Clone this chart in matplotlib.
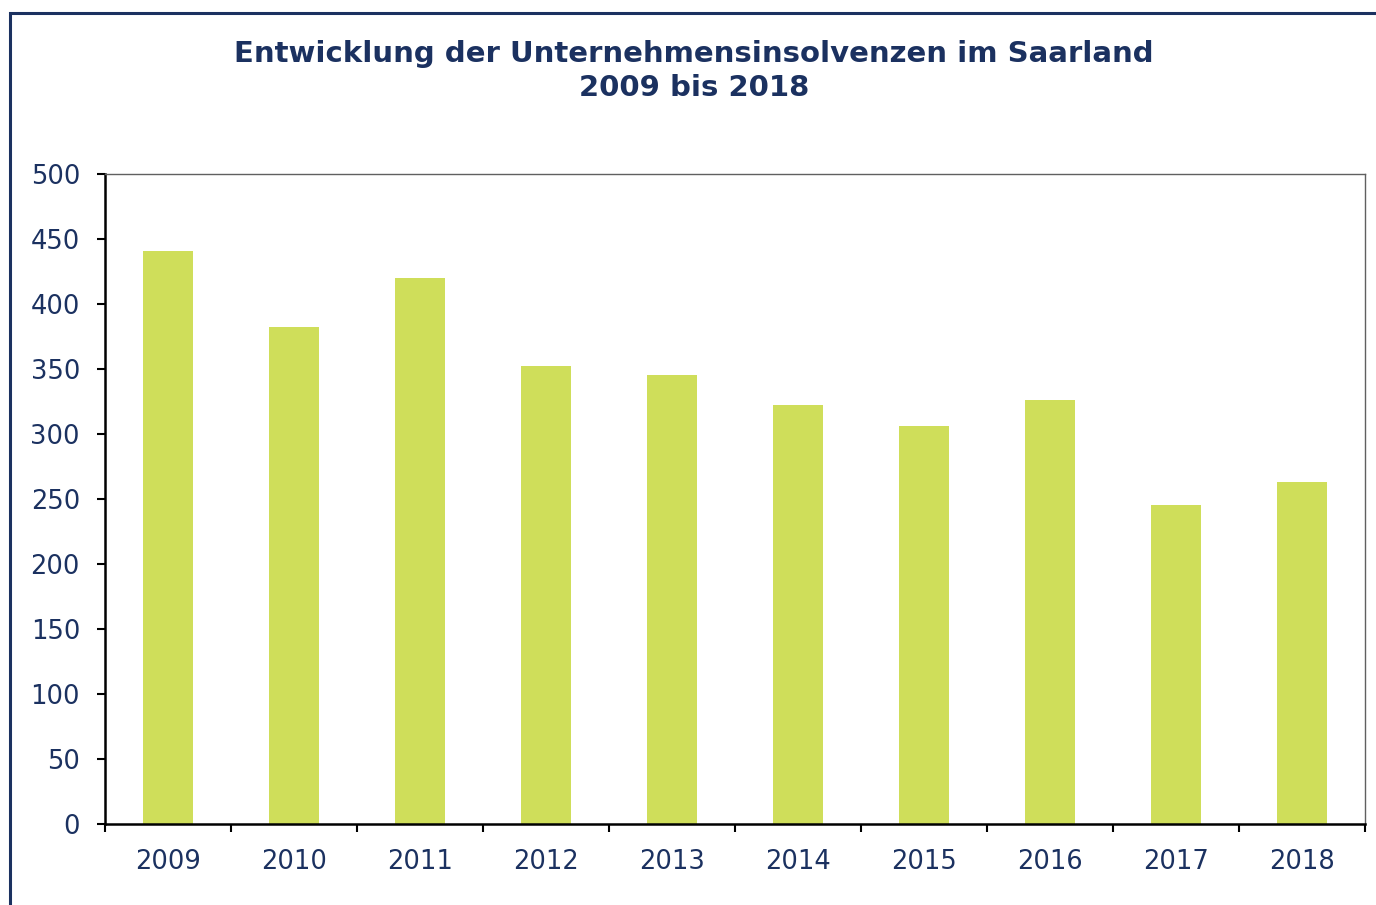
import matplotlib.pyplot as plt
from matplotlib.patches import Rectangle

# Daten
jahre = ['2009', '2010', '2011', '2012', '2013', '2014', '2015', '2016', '2017', '2018']
insolvenzen = [441, 382, 420, 352, 345, 322, 306, 326, 245, 263]

navy = '#1b3160'
bar_color = '#cfde5a'

fig = plt.figure(figsize=(13.76, 9.05), dpi=100)

# Rahmen um das Diagramm (rechts/unten abgeschnitten)
x0 = 10 / 1376
y_top = 1 - 13 / 905
fig.patches.append(Rectangle((x0, -0.1), 1.2, y_top + 0.1, transform=fig.transFigure,
                             fill=False, edgecolor=navy, linewidth=2.2))

ax = fig.add_axes([105 / 1376, 81 / 905, 1260 / 1376, 650 / 905])

pos = range(len(jahre))
ax.bar(pos, insolvenzen, width=0.4, color=bar_color, edgecolor='none')

ax.set_xlim(-0.5, len(jahre) - 0.5)
ax.set_ylim(0, 500)
ax.set_yticks(range(0, 501, 50))

# Striche an den Kategoriegrenzen, Beschriftung in der Mitte
ax.set_xticks([i - 0.5 for i in range(len(jahre) + 1)])
ax.set_xticklabels([])
ax.set_xticks(list(pos), minor=True)
ax.set_xticklabels(jahre, minor=True)
ax.tick_params(axis='x', which='major', direction='out', length=6, width=1.5, color='black')
ax.tick_params(axis='x', which='minor', length=0, pad=18, labelsize=18.5, labelcolor=navy)
ax.tick_params(axis='y', direction='out', length=6, width=1.5, color='black',
               pad=12, labelsize=18.5, labelcolor=navy)

for s in ['left', 'bottom']:
    ax.spines[s].set_color('black')
    ax.spines[s].set_linewidth(1.8)
for s in ['top', 'right']:
    ax.spines[s].set_color('#606060')
    ax.spines[s].set_linewidth(1.0)

fig.text(694 / 1376, 1 - 71 / 905,
         'Entwicklung der Unternehmensinsolvenzen im Saarland\n2009 bis 2018',
         ha='center', va='center', fontsize=21, fontweight='bold', color=navy,
         linespacing=1.3)

fig.savefig('out.png', dpi=100)
